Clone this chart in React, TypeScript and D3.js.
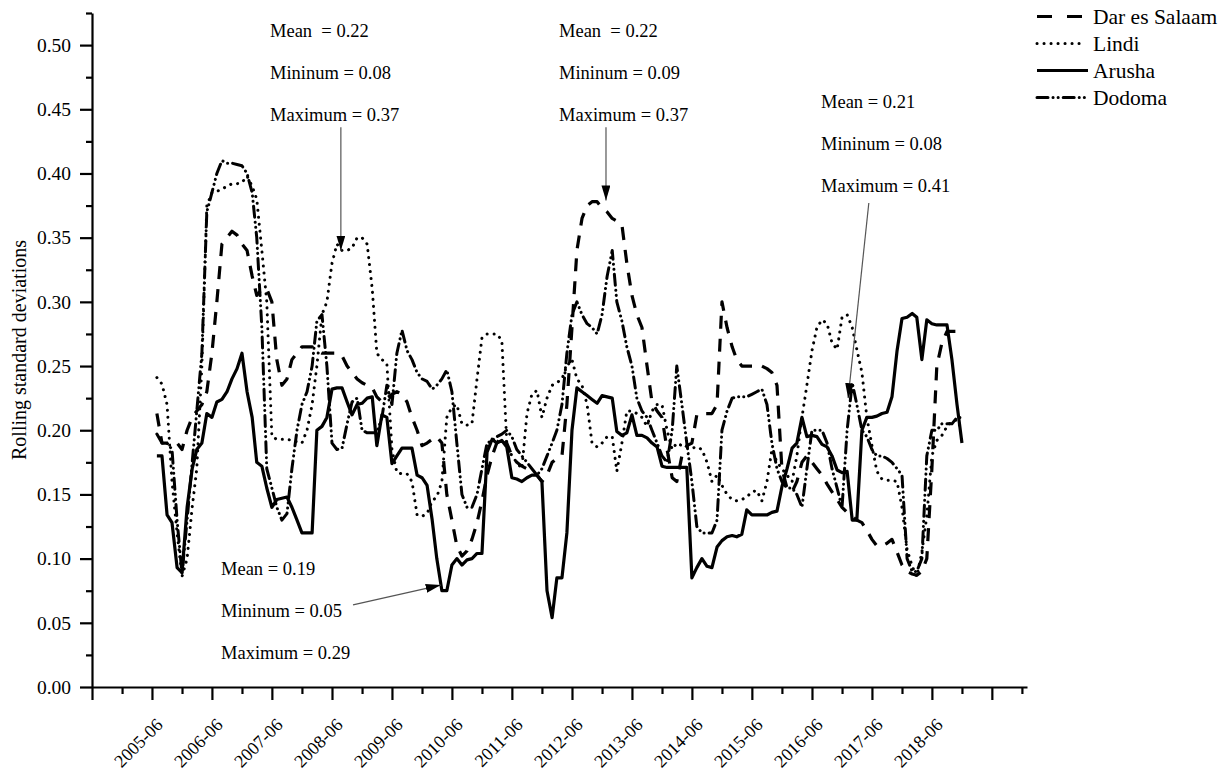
import React, { useRef, useEffect } from 'react';
import * as d3 from 'd3';

// monthly rolling standard deviations, first value is 2005-07, last 2018-12
const firstMonth = '2005-07';

const darEsSalaam = [
  0.213, 0.19, 0.19, 0.19, 0.19, 0.185, 0.2, 0.21, 0.215, 0.22, 0.23, 0.26,
  0.3, 0.345, 0.35, 0.355, 0.352, 0.345, 0.34, 0.32, 0.305, 0.31, 0.31, 0.3,
  0.255, 0.235, 0.24, 0.255, 0.26, 0.265, 0.265, 0.265, 0.262, 0.26, 0.26, 0.26,
  0.26, 0.258, 0.25, 0.245, 0.24, 0.237, 0.235, 0.233, 0.226, 0.222, 0.225, 0.228,
  0.23, 0.228, 0.222, 0.21, 0.2, 0.188, 0.19, 0.193, 0.195, 0.19, 0.15, 0.13,
  0.11, 0.102, 0.106, 0.115, 0.128, 0.145, 0.165, 0.18, 0.19, 0.195, 0.19, 0.18,
  0.175, 0.172, 0.17, 0.168, 0.165, 0.16, 0.165, 0.175, 0.178, 0.18, 0.22, 0.28,
  0.34, 0.365, 0.375, 0.378, 0.378, 0.373, 0.37, 0.365, 0.363, 0.36, 0.33, 0.305,
  0.29, 0.28, 0.25, 0.222, 0.215, 0.21, 0.185, 0.163, 0.16, 0.18, 0.188, 0.19,
  0.212, 0.213, 0.213, 0.213, 0.22, 0.3, 0.28, 0.265, 0.255, 0.25, 0.25, 0.25,
  0.25, 0.25, 0.248, 0.245, 0.235, 0.17, 0.155, 0.152, 0.16, 0.175, 0.18, 0.175,
  0.17, 0.165, 0.158, 0.152, 0.146, 0.14, 0.136, 0.133, 0.13, 0.128, 0.122, 0.115,
  0.11, 0.11, 0.112, 0.115, 0.105, 0.095, 0.09, 0.088, 0.087, 0.09, 0.1, 0.17,
  0.25, 0.268, 0.277, 0.277, 0.277, 0.276,
];

const lindi = [
  0.241, 0.236, 0.22, 0.16, 0.12, 0.086, 0.1, 0.14, 0.17, 0.25, 0.375, 0.385,
  0.386, 0.388, 0.39, 0.392, 0.392, 0.393, 0.398, 0.39, 0.38, 0.34, 0.3, 0.195,
  0.193, 0.193, 0.193, 0.192, 0.191, 0.19, 0.2, 0.22, 0.25, 0.29, 0.3, 0.33,
  0.345, 0.34, 0.34, 0.342, 0.35, 0.35, 0.345, 0.31, 0.26, 0.255, 0.252, 0.185,
  0.167, 0.166, 0.166, 0.16, 0.134, 0.133, 0.135, 0.145, 0.148, 0.16, 0.21, 0.218,
  0.22, 0.205, 0.204, 0.205, 0.24, 0.272, 0.275, 0.275, 0.275, 0.27, 0.19, 0.18,
  0.175, 0.17, 0.213, 0.228, 0.231, 0.21, 0.225, 0.235, 0.237, 0.24, 0.25, 0.255,
  0.24, 0.235, 0.22, 0.19, 0.187, 0.19, 0.195, 0.195, 0.168, 0.19, 0.215, 0.215,
  0.213, 0.21, 0.203, 0.215, 0.22, 0.22, 0.2, 0.185, 0.19, 0.188, 0.187, 0.186,
  0.187, 0.185, 0.175, 0.16, 0.165, 0.157, 0.15, 0.146, 0.145, 0.146, 0.148, 0.152,
  0.153, 0.145, 0.16, 0.185, 0.175, 0.17, 0.165, 0.16, 0.18, 0.21, 0.235, 0.262,
  0.28, 0.286, 0.283, 0.268, 0.263, 0.288, 0.29, 0.28, 0.263, 0.245, 0.21, 0.188,
  0.168, 0.162, 0.161, 0.161, 0.16, 0.14, 0.107, 0.094, 0.086, 0.105, 0.133, 0.18,
  0.192, 0.196, 0.203, 0.207, 0.208, 0.2,
];

const arusha = [
  0.18, 0.18, 0.134, 0.128, 0.093, 0.089, 0.14, 0.17, 0.185, 0.19, 0.213, 0.21,
  0.222, 0.224, 0.23, 0.24, 0.248, 0.26, 0.23, 0.21, 0.175, 0.172, 0.155, 0.14,
  0.146, 0.147, 0.148, 0.14, 0.13, 0.12, 0.12, 0.12, 0.2, 0.203, 0.21, 0.232,
  0.233, 0.233, 0.222, 0.212, 0.22, 0.221, 0.225, 0.226, 0.188, 0.212, 0.21, 0.174,
  0.18, 0.186, 0.186, 0.186, 0.165, 0.163, 0.157, 0.13, 0.1, 0.075, 0.075, 0.095,
  0.1, 0.095, 0.099, 0.1, 0.104, 0.104, 0.183, 0.193, 0.19, 0.192, 0.187, 0.163,
  0.162, 0.16, 0.163, 0.165, 0.165, 0.16, 0.075, 0.054, 0.085, 0.085, 0.12, 0.2,
  0.233, 0.23, 0.227, 0.224, 0.221, 0.227, 0.226, 0.225, 0.199, 0.196, 0.198, 0.212,
  0.196, 0.196, 0.194, 0.19, 0.187, 0.172, 0.171, 0.171, 0.171, 0.171, 0.171, 0.085,
  0.093, 0.1, 0.094, 0.093, 0.109, 0.114, 0.117, 0.118, 0.117, 0.119, 0.138, 0.134,
  0.134, 0.134, 0.134, 0.136, 0.137, 0.156, 0.17, 0.186, 0.19, 0.21, 0.195, 0.196,
  0.195, 0.189, 0.187, 0.18, 0.169, 0.167, 0.168, 0.13, 0.13, 0.2, 0.21, 0.21,
  0.211, 0.213, 0.214, 0.226, 0.262, 0.287, 0.288, 0.291, 0.288, 0.255, 0.286, 0.283,
  0.282, 0.282, 0.282, 0.255, 0.22, 0.19,
];

const dodoma = [
  0.197, 0.19, 0.19, 0.185, 0.13, 0.088, 0.13, 0.175, 0.215, 0.26, 0.37, 0.385,
  0.4, 0.41, 0.408, 0.408, 0.407, 0.406, 0.4, 0.385, 0.35, 0.28, 0.17, 0.155,
  0.14, 0.13, 0.135, 0.17, 0.2, 0.22, 0.23, 0.25, 0.285, 0.29, 0.25, 0.19,
  0.185, 0.186, 0.205, 0.222, 0.225, 0.2, 0.198, 0.198, 0.198, 0.21, 0.235, 0.22,
  0.26, 0.278, 0.262, 0.255, 0.245, 0.24, 0.238, 0.232, 0.235, 0.24, 0.247, 0.23,
  0.19, 0.15, 0.14, 0.14, 0.15, 0.17, 0.19, 0.192, 0.195, 0.197, 0.2, 0.195,
  0.185, 0.18, 0.175, 0.17, 0.165, 0.17, 0.18, 0.19, 0.2, 0.22, 0.26, 0.29,
  0.3, 0.29, 0.283, 0.28, 0.275, 0.29, 0.32, 0.34, 0.3, 0.285, 0.265, 0.25,
  0.225, 0.215, 0.21, 0.2, 0.19, 0.18, 0.175, 0.2, 0.25, 0.22, 0.19, 0.16,
  0.125, 0.12, 0.12, 0.12, 0.13, 0.2, 0.215, 0.225, 0.226, 0.226, 0.226, 0.228,
  0.23, 0.232, 0.22, 0.19, 0.17, 0.16, 0.155, 0.155, 0.15, 0.14, 0.17, 0.2,
  0.2, 0.2, 0.19, 0.17, 0.155, 0.14, 0.2, 0.237, 0.22, 0.2, 0.195, 0.185,
  0.18, 0.18, 0.178, 0.175, 0.17, 0.165, 0.1, 0.09, 0.09, 0.1, 0.18, 0.2,
  0.2, 0.205, 0.205, 0.205, 0.21, 0.21,
];

const yTicks = [0, 0.05, 0.1, 0.15, 0.2, 0.25, 0.3, 0.35, 0.4, 0.45, 0.5];
const xLabels = [
  '2005-06', '2006-06', '2007-06', '2008-06', '2009-06', '2010-06', '2011-06',
  '2012-06', '2013-06', '2014-06', '2015-06', '2016-06', '2017-06', '2018-06',
];

const series = [
  { name: 'Dar es Salaam', values: darEsSalaam, dash: '13,10', cap: 'butt', width: 3.2 },
  { name: 'Lindi', values: lindi, dash: '0.1,6.9', cap: 'round', width: 3 },
  { name: 'Arusha', values: arusha, dash: null, cap: 'butt', width: 3.2 },
  { name: 'Dodoma', values: dodoma, dash: '11,5,0.1,5,0.1,5', cap: 'round', width: 3 },
];

// text blocks and the arrows that point at the curves (tip/tail in data units)
const notes = [
  { lines: ['Mean  = 0.22', 'Mininum = 0.08', 'Maximum = 0.37'], left: 270, top: 37,
    tail: ['2008-07-25', 0.436], tip: ['2008-07-25', 0.34] },
  { lines: ['Mean  = 0.22', 'Mininum = 0.09', 'Maximum = 0.37'], left: 559, top: 37,
    tail: ['2012-12-25', 0.436], tip: ['2012-12-25', 0.379] },
  { lines: ['Mean = 0.21', 'Mininum = 0.08', 'Maximum = 0.41'], left: 821, top: 108,
    tail: ['2017-05-13', 0.377], tip: ['2017-01-07', 0.225] },
  { lines: ['Mean = 0.19', 'Mininum = 0.05', 'Maximum = 0.29'], left: 221, top: 575,
    tail: ['2008-10-07', 0.064], tip: ['2010-03-25', 0.0794] },
];

const width = 1230;
const height = 770;
const font = "'Liberation Serif', 'Times New Roman', serif";

const parseMonth = d3.timeParse('%Y-%m');
const parseDay = d3.timeParse('%Y-%m-%d');
const start = parseMonth(firstMonth) as Date;
const months = arusha.map((_, i) => d3.timeMonth.offset(start, i));

const x = d3.scaleTime()
  .domain([new Date(2004, 5, 1), new Date(2020, 0, 1)])
  .range([92, 1027]);
const y = d3.scaleLinear().domain([0, 0.525]).range([687, 13]);

const majorX = d3.timeMonth.range(new Date(2004, 5, 1), new Date(2019, 6, 1), 12);
const minorX = d3.timeMonth.range(new Date(2004, 11, 1), new Date(2020, 0, 1), 12);
const minorY = d3.range(0.025, 0.53, 0.05);

const line = d3.line<number>()
  .x((_, i) => x(months[i]))
  .y((d) => y(d));

const App = () => {
  const xAxisRef = useRef<SVGGElement>(null);
  const yAxisRef = useRef<SVGGElement>(null);

  useEffect(() => {
    const gx = d3.select(xAxisRef.current);
    gx.selectAll('*').remove();
    gx.append('g')
      .call(d3.axisBottom(x).tickValues(majorX).tickSize(13).tickSizeOuter(0).tickFormat(() => ''));
    gx.append('g')
      .call(d3.axisBottom(x).tickValues(minorX).tickSize(7).tickSizeOuter(0).tickFormat(() => ''))
      .call((g) => g.select('.domain').remove());
    gx.selectAll('line, path').attr('stroke', '#000').attr('stroke-width', 2.2);

    const gy = d3.select(yAxisRef.current);
    gy.selectAll('*').remove();
    gy.append('g')
      .call(d3.axisLeft(y).tickValues(yTicks).tickSize(12).tickSizeOuter(0)
        .tickPadding(9).tickFormat(d3.format('.2f')));
    gy.append('g')
      .call(d3.axisLeft(y).tickValues(minorY).tickSize(6).tickSizeOuter(0).tickFormat(() => ''))
      .call((g) => g.select('.domain').remove());
    gy.selectAll('line, path').attr('stroke', '#000').attr('stroke-width', 2.2);
    gy.selectAll('text')
      .attr('fill', '#000')
      .style('font-family', font)
      .style('font-size', '19.5px');
  }, []);

  return (
    <svg width={width} height={height} style={{ position: 'absolute', left: 0, top: 0, background: '#fff' }}>
      <defs>
        <marker id="head" markerUnits="userSpaceOnUse" markerWidth="16" markerHeight="10"
          refX="15" refY="4.5" orient="auto">
          <path d="M0,0 L15,4.5 L0,9 Z" fill="#000" />
        </marker>
      </defs>

      {series.map((s) => (
        <path key={s.name} d={line(s.values) ?? ''} fill="none" stroke="#000"
          strokeWidth={s.width} strokeDasharray={s.dash ?? undefined}
          strokeLinecap={s.cap as any} strokeLinejoin="round" />
      ))}

      <g ref={xAxisRef} transform="translate(0,687)" />
      <g ref={yAxisRef} transform="translate(92,0)" />

      {xLabels.map((label) => {
        const tx = x(parseMonth(label) as Date);
        return (
          <text key={label} transform={`translate(${tx + 12},726) rotate(-45)`}
            textAnchor="end" fontFamily={font} fontSize={18}>{label}</text>
        );
      })}

      <text transform="translate(26,350) rotate(-90)" textAnchor="middle"
        fontFamily={font} fontSize={20}>Rolling standard deviations</text>

      {notes.map((n, k) => (
        <g key={k}>
          {n.lines.map((t, j) => (
            <text key={j} x={n.left} y={n.top + j * 42} fontFamily={font} fontSize={18.5}
              style={{ whiteSpace: 'pre' }}>{t}</text>
          ))}
          <line x1={x(parseDay(n.tail[0] as string) as Date)} y1={y(n.tail[1] as number)}
            x2={x(parseDay(n.tip[0] as string) as Date)} y2={y(n.tip[1] as number)}
            stroke="#555" strokeWidth={1.2} markerEnd="url(#head)" />
        </g>
      ))}

      <g transform="translate(1037,0)">
        {series.map((s, i) => (
          <g key={s.name} transform={`translate(0,${24 + i * 27})`}>
            <line x1={0} x2={s.name === 'Dar es Salaam' || s.name === 'Lindi' ? 46 : 51} y1={-7.5} y2={-7.5}
              stroke="#000" strokeWidth={s.width}
              strokeDasharray={s.name === 'Dar es Salaam' ? '15,15' : s.dash ?? undefined}
              strokeLinecap={s.cap as any} />
            <text x={56} y={0} fontFamily={font} fontSize={21.5}>{s.name}</text>
          </g>
        ))}
      </g>
    </svg>
  );
};

export default App;
